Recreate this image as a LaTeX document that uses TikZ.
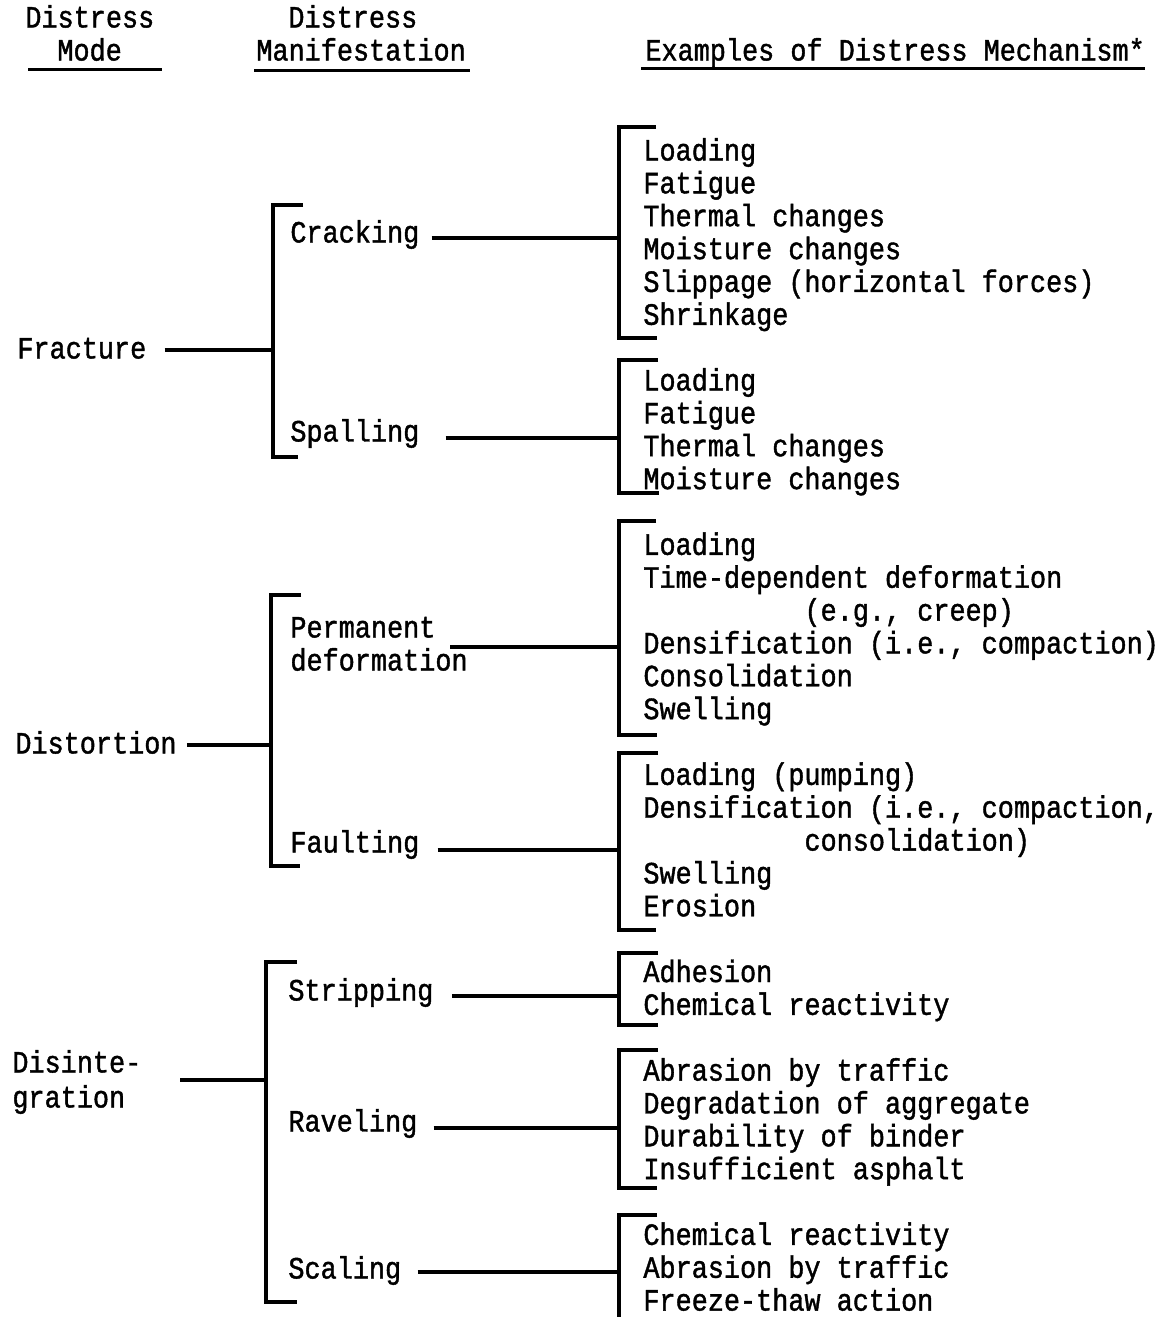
\documentclass[tikz,border=0pt]{standalone}
\usepackage{fontspec}
\setmonofont[FakeStretch=0.866,FakeBold=1.3]{Liberation Mono}
\usepackage{tikz}
\usetikzlibrary{positioning}

\begin{document}
\begin{tikzpicture}[
        x=0.5pt, y=-0.5pt,
        entry/.style={anchor=west, inner sep=0pt, text height=10.5pt, text depth=0pt,
                      font=\ttfamily\fontsize{15.5}{16}\selectfont},
        conn/.style={line width=2pt},
        bkt/.style={line width=2pt},
        uline/.style={line width=1.5pt}
    ]
    \useasboundingbox (0,0) rectangle (1165,1317);

    % column heads
    \node[entry] (headA)  at (25,17)  {Distress};
    \node[entry] (headA2) at (57,50)  {Mode};
    \node[entry] (headB)  at (288,17) {Distress};
    \node[entry] (headB2) at (256,50) {Manifestation};
    \node[entry] (headC)  at (645,50) {Examples of Distress Mechanism*};
    \draw[uline] (28,69) -- (162,69);
    \draw[uline] (254,70) -- (470,70);
    \draw[uline] (641,68) -- (1145,68);

    % distress modes
    \node[entry] (fracture) at (17,348)  {Fracture};
    \node[entry] (distort)  at (15,743)  {Distortion};
    \node[entry] (disint)   at (12,1062) {Disinte-};
    \node[entry] (disint2)  at (12,1097) {gration};

    % manifestations
    \node[entry] (crack) at (290,232)  {Cracking};
    \node[entry] (spall) at (290,431)  {Spalling};
    \node[entry] (perm)  at (290,627)  {Permanent};
    \node[entry] (perm2) at (290,660)  {deformation};
    \node[entry] (fault) at (290,842)  {Faulting};
    \node[entry] (strip) at (288,990)  {Stripping};
    \node[entry] (ravel) at (288,1121) {Raveling};
    \node[entry] (scale) at (288,1268) {Scaling};

    % mechanisms
    \foreach \t [count=\i from 0] in {Loading, Fatigue, Thermal changes, Moisture changes,
            Slippage (horizontal forces), Shrinkage}
        \node[entry] (mA\i) at (643,{150+32.86*\i}) {\t};
    \foreach \t [count=\i from 7] in {Loading, Fatigue, Thermal changes, Moisture changes}
        \node[entry] (mB\i) at (643,{150+32.86*\i}) {\t};
    \foreach \t [count=\i from 12] in {Loading, Time-dependent deformation,
            {\phantom{0000000000}(e.g., creep)}, {Densification (i.e., compaction)},
            Consolidation, Swelling}
        \node[entry] (mC\i) at (643,{150+32.86*\i}) {\t};
    \foreach \t [count=\i from 19] in {Loading (pumping), {Densification (i.e., compaction,},
            {\phantom{0000000000}consolidation)}, Swelling, Erosion}
        \node[entry] (mD\i) at (643,{150+32.86*\i}) {\t};
    \foreach \t [count=\i from 25] in {Adhesion, Chemical reactivity}
        \node[entry] (mE\i) at (643,{150+32.86*\i}) {\t};
    \foreach \t [count=\i from 28] in {Abrasion by traffic, Degradation of aggregate,
            Durability of binder, Insufficient asphalt}
        \node[entry] (mF\i) at (643,{150+32.86*\i}) {\t};
    \foreach \t [count=\i from 33] in {Chemical reactivity, Abrasion by traffic,
            Freeze-thaw action}
        \node[entry] (mG\i) at (643,{150+32.86*\i}) {\t};

    % brackets
    \draw[bkt] (303,205) -| (273,457) -- (298,457);
    \draw[bkt] (301,595) -| (271,866) -- (300,866);
    \draw[bkt] (297,962) -| (266,1302) -- (297,1302);
    \draw[bkt] (656,127)  -| (619,338)  -- (657,338);
    \draw[bkt] (658,360)  -| (619,493)  -- (659,493);
    \draw[bkt] (656,521)  -| (619,735)  -- (657,735);
    \draw[bkt] (658,753)  -| (619,930)  -- (656,930);
    \draw[bkt] (658,953)  -| (619,1025) -- (658,1025);
    \draw[bkt] (658,1050) -| (619,1188) -- (657,1188);
    \draw[bkt] (657,1215) -| (619,1320) -- (657,1320);

    \coordinate (spA) at (273,350);
    \coordinate (spB) at (271,745);
    \coordinate (spC) at (266,1080);
    \coordinate (sp1) at (619,238);
    \coordinate (sp2) at (619,438);
    \coordinate (sp3) at (619,647);
    \coordinate (sp4) at (619,850);
    \coordinate (sp5) at (619,996);
    \coordinate (sp6) at (619,1128);
    \coordinate (sp7) at (619,1272);
    \coordinate (dj)  at (180,1080);
    \coordinate (pj)  at (450,647);

    % connectors
    \draw[conn] ([xshift=9pt,yshift=-1pt]fracture.east) -- (spA);
    \draw[conn] ([xshift=5pt,yshift=-1pt]distort.east) -- (spB);
    \draw[conn] (dj) -- (spC);
    \draw[conn] ([xshift=6pt,yshift=-3pt]crack.east) -- (sp1);
    \draw[conn] ([xshift=13pt,yshift=-3.5pt]spall.east) -- (sp2);
    \draw[conn] (pj) -- (sp3);
    \draw[conn] ([xshift=9pt,yshift=-4pt]fault.east) -- (sp4);
    \draw[conn] ([xshift=9pt,yshift=-3pt]strip.east) -- (sp5);
    \draw[conn] ([xshift=8pt,yshift=-3.5pt]ravel.east) -- (sp6);
    \draw[conn] ([xshift=8pt,yshift=-2pt]scale.east) -- (sp7);
\end{tikzpicture}
\end{document}
